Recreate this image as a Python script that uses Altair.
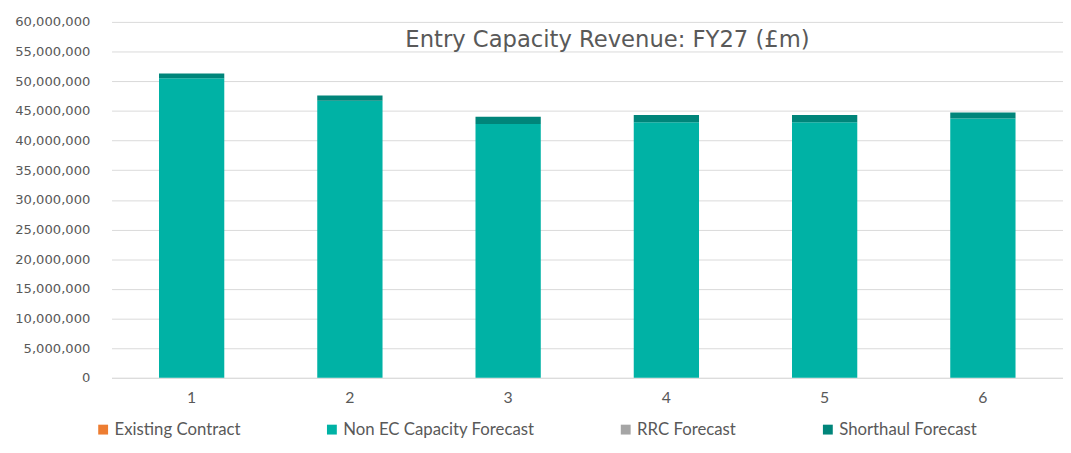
import altair as alt
import pandas as pd

categories = ["1", "2", "3", "4", "5", "6"]
existing_contract = [0, 0, 0, 0, 0, 0]
non_ec_capacity = [50500000, 46700000, 42800000, 43100000, 43100000, 43700000]
rrc_forecast = [0, 0, 0, 0, 0, 0]
shorthaul = [800000, 900000, 1200000, 1200000, 1200000, 1050000]

series_names = ["Existing Contract", "Non EC Capacity Forecast", "RRC Forecast", "Shorthaul Forecast"]
series_colors = ["#ED7D31", "#00B2A5", "#A5A5A5", "#00857A"]
y_ticks = list(range(0, 60000001, 5000000))
chart_title = ["Entry Capacity Revenue: FY27 (£m)"]

rows = []
for i, c in enumerate(categories):
    for k, (name, vals) in enumerate(zip(series_names, [existing_contract, non_ec_capacity, rrc_forecast, shorthaul])):
        rows.append({"cat": c, "series": name, "value": vals[i], "order": k})
df = pd.DataFrame(rows)

bars = alt.Chart(df).mark_bar().encode(
    x=alt.X("cat:N", sort=categories,
            scale=alt.Scale(paddingInner=0.5875, paddingOuter=0.3),
            axis=alt.Axis(title=None, labelAngle=0, ticks=False, domain=True, domainColor="#D9D9D9",
                          labelFont="Lato", labelFontSize=16, labelColor="#595959", labelPadding=12)),
    y=alt.Y("value:Q", stack="zero",
            scale=alt.Scale(domain=[0, 60000000], nice=False),
            axis=alt.Axis(title=None, values=y_ticks, format=",d", ticks=False, domain=False,
                          gridColor="#D9D9D9", gridWidth=1,
                          labelFont="DejaVu Sans", labelFontSize=13.3, labelColor="#595959", labelPadding=22)),
    color=alt.Color("series:N", sort=series_names,
                    scale=alt.Scale(domain=series_names, range=series_colors),
                    legend=alt.Legend(title=None, orient="none", direction="horizontal",
                                      legendX=-17, legendY=405, symbolType="square", symbolSize=100,
                                      symbolStrokeWidth=0, labelFont="Lato", labelFontSize=17,
                                      labelColor="#595959", columnPadding=84, labelOffset=3,
                                      labelLimit=400, gridAlign="none")),
    order=alt.Order("order:Q"),
)

title = alt.Chart(pd.DataFrame({"t": chart_title})).mark_text(
    font="DejaVu Sans", fontSize=23, color="#595959", align="center", baseline="middle"
).encode(text="t:N", x=alt.value(503), y=alt.value(18))

chart = alt.layer(bars, title).properties(
    width=965, height=361,
    autosize=alt.AutoSizeParams(type="none"),
    padding={"left": 105, "top": 11, "right": 0, "bottom": 65},
).configure_view(stroke=None)

chart.save("out.html", embed_options={"renderer": "svg", "actions": False})
